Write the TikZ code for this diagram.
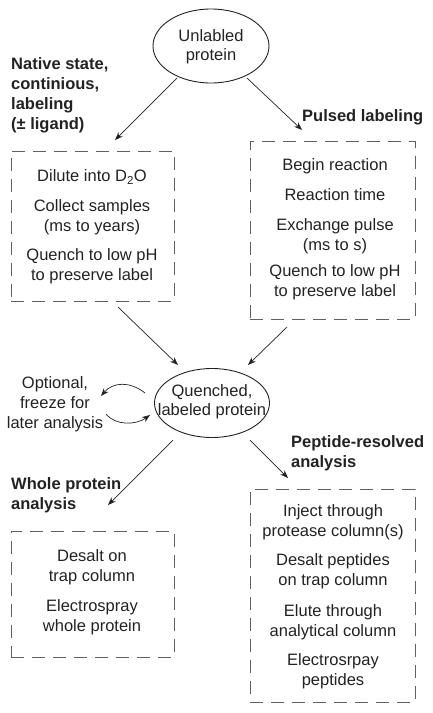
\documentclass[tikz,border=0pt]{standalone}
\usepackage{fontspec}
\setmainfont{Liberation Sans}
\usetikzlibrary{shapes.geometric,arrows.meta}
\definecolor{txt}{HTML}{222222}
\definecolor{dash}{HTML}{606060}
\begin{document}
\begin{tikzpicture}[x=1pt,y=-1pt,
  every node/.style={text=txt,font=\fontsize{16.5}{20}\selectfont,inner sep=0pt,align=center},
  oval/.style={draw=txt,line width=0.9pt,ellipse},
  dbox/.style={draw=dash,line width=0.95pt,dash pattern=on 13pt off 8pt,rectangle},
  lbl/.style={font=\fontsize{16.5}{20}\selectfont\bfseries,align=left,anchor=west},
  arr/.style={draw=txt,line width=0.7pt,-{Stealth[length=8pt,width=6pt]}}]
\useasboundingbox (0,0) rectangle (432,713);
% ellipses
\node[oval,minimum width=116pt,minimum height=74pt] (top) at (211,46) {};
\node at (211,36) (t1) {Unlabled};
\node at (211,56) (t2) {protein};
\node[oval,minimum width=115pt,minimum height=69pt] (mid) at (212,403) {};
\node at (212,392) (m1) {Quenched,};
\node at (212,411) (m2) {labeled protein};
% boxes
\node[dbox,minimum width=163pt,minimum height=150pt] (lbox) at (92.5,226) {};
\node[dbox,minimum width=165pt,minimum height=178pt] (rbox) at (332.5,230) {};
\node[dbox,minimum width=163pt,minimum height=126pt] (wbox) at (92.5,594) {};
\node[dbox,minimum width=165pt,minimum height=213pt] (pbox) at (332.5,595.5) {};
% bold labels
\node[lbl] (nat) at (11,95) {Native state,\\continious,\\labeling\\(± ligand)};
\node[lbl] (pul) at (302,117) {Pulsed labeling};
\node[lbl] (pep) at (291,453) {Peptide-resolved\\analysis};
\node[lbl] (who) at (11,495) {Whole protein\\analysis};
% left box text
\node (l1) at (92,177) {Dilute into D\textsubscript{2}O};
\node (l2) at (92,217) {Collect samples\\(ms to years)};
\node (l3) at (92,266) {Quench to low pH\\to preserve label};
% right box text
\node (r1) at (335,166) {Begin reaction};
\node (r2) at (335,195) {Reaction time};
\node (r3) at (335,236) {Exchange pulse\\(ms to s)};
\node (r4) at (335,282) {Quench to low pH\\to preserve label};
% optional text
\node (opt) at (55,404) {Optional,\\freeze for\\later analysis};
% whole box text
\node (w1) at (92,567) {Desalt on\\trap column};
\node (w2) at (92,617) {Electrospray\\whole protein};
% peptide box text
\node (p1) at (333,522) {Inject through\\protease column(s)};
\node (p2) at (333,571) {Desalt peptides\\on trap column};
\node (p3) at (333,622) {Elute through\\analytical column};
\node (p4) at (333,671) {Electrosrpay\\peptides};
% arrow end coordinates
\coordinate (a1s) at (177,78);
\coordinate (a1e) at (115,140);
\coordinate (a2s) at (247,78);
\coordinate (a2e) at (302,130);
\coordinate (a3s) at (118,307);
\coordinate (a3e) at (178,365);
\coordinate (a4s) at (287,327);
\coordinate (a4e) at (248,365);
\coordinate (a5s) at (173,440);
\coordinate (a5e) at (108,505);
\coordinate (a6s) at (250,440);
\coordinate (a6e) at (288,478);
\coordinate (c1s) at (145,393);
\coordinate (c1e) at (101,396);
\coordinate (c2s) at (106,414);
\coordinate (c2e) at (150,415);
\draw[arr] (a1s) -- (a1e);
\draw[arr] (a2s) -- (a2e);
\draw[arr] (a3s) -- (a3e);
\draw[arr] (a4s) -- (a4e);
\draw[arr] (a5s) -- (a5e);
\draw[arr] (a6s) -- (a6e);
\draw[arr] (c1s) .. controls (130,381) and (113,382) .. (c1e);
\draw[arr] (c2s) .. controls (116,426) and (136,425) .. (c2e);
\end{tikzpicture}
\end{document}
